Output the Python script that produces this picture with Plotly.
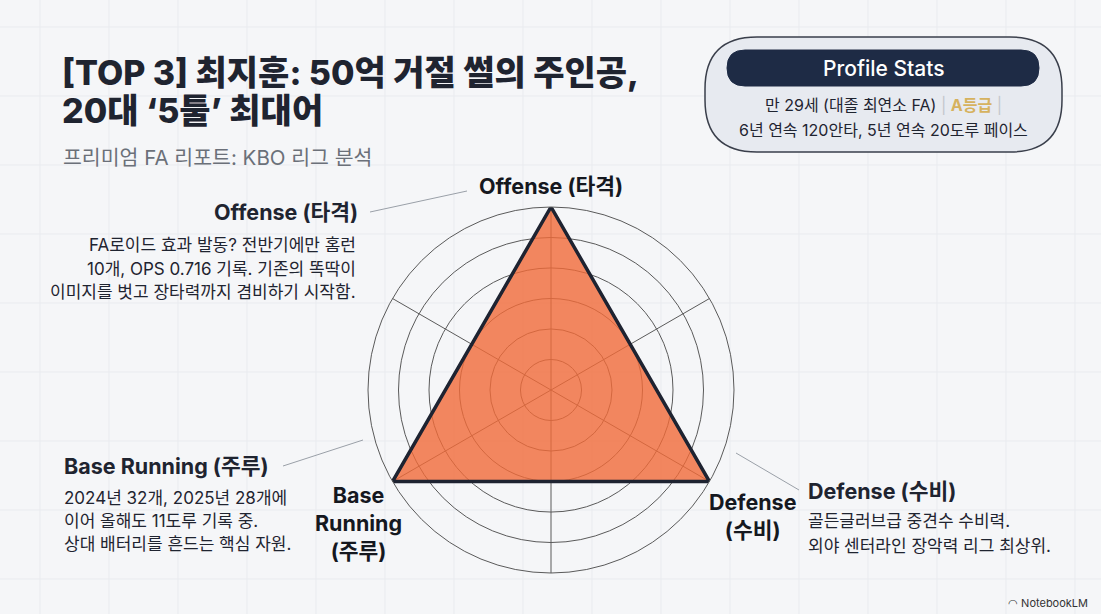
import plotly.graph_objects as go

W, H = 1101, 614

# ---- data ----
categories = ["Offense (타격)", "Defense (수비)", "Base Running (주루)"]
values = [6, 6, 6]
radial_max = 6
axis_order = ["Offense (타격)", " ", "Defense (수비)", "  ", "Base Running (주루)", "   "]

title_lines = ["[TOP 3] 최지훈: 50억 거절 썰의 주인공,", "20대 ‘5툴’ 최대어"]
subtitle = "프리미엄 FA 리포트: KBO 리그 분석"
profile_title = "Profile Stats"
profile_line1 = ("만 29세 (대졸 최연소 FA) ", "A등급")
profile_line2 = "6년 연속 120안타, 5년 연속 20도루 페이스"

axis_labels = {"Offense (타격)": "Offense (타격)",
               "Defense (수비)": "Defense<br>(수비)",
               "Base Running (주루)": "Base<br>Running<br>(주루)"}
notes = {
    "Offense (타격)": ["FA로이드 효과 발동? 전반기에만 홈런",
                     "10개, OPS 0.716 기록. 기존의 똑딱이",
                     "이미지를 벗고 장타력까지 겸비하기 시작함."],
    "Base Running (주루)": ["2024년 32개, 2025년 28개에",
                          "이어 올해도 11도루 기록 중.",
                          "상대 배터리를 흔드는 핵심 자원."],
    "Defense (수비)": ["골든글러브급 중견수 수비력.",
                     "외야 센터라인 장악력 리그 최상위."],
}

FONT = "Inter, Noto Sans CJK KR, sans-serif"
DARK = "#1f2430"


def X(x):
    return x / W


def Y(y):
    return 1 - y / H


fig = go.Figure()
fig.add_trace(go.Scatterpolar(
    r=values + values[:1],
    theta=categories + categories[:1],
    mode="lines",
    fill="toself",
    fillcolor="rgba(241,106,56,0.80)",
    line=dict(color="#1e2331", width=3.5),
    hoverinfo="skip",
    showlegend=False,
))

cx, cy, R = 551, 390, 183
fig.update_layout(
    width=W, height=H,
    margin=dict(l=0, r=0, t=0, b=0),
    paper_bgcolor="#f5f6f8",
    plot_bgcolor="#f5f6f8",
    font=dict(family=FONT, color=DARK),
    polar=dict(
        domain=dict(x=[X(cx - R), X(cx + R)], y=[Y(cy + R), Y(cy - R)]),
        bgcolor="rgba(0,0,0,0)",
        radialaxis=dict(range=[0, radial_max], dtick=1, showticklabels=False,
                        ticks="", showline=False, gridcolor="#5a5a5a", gridwidth=1),
        angularaxis=dict(type="category", categoryorder="array", categoryarray=axis_order,
                         rotation=90, direction="clockwise", showticklabels=False,
                         ticks="", linecolor="#5a5a5a", linewidth=1,
                         gridcolor="#5a5a5a", gridwidth=1),
    ),
)

shapes = []
# faint graph-paper background
for gx in range(40, W, 69):
    shapes.append(dict(type="line", xref="paper", yref="paper", x0=X(gx), x1=X(gx), y0=0, y1=1,
                       line=dict(color="#e9ebef", width=1), layer="below"))
for gy in range(27, H, 69):
    shapes.append(dict(type="line", xref="paper", yref="paper", x0=0, x1=1, y0=Y(gy), y1=Y(gy),
                       line=dict(color="#e9ebef", width=1), layer="below"))


def pill(x0, y0, x1, y1, r):
    s = f"M {X(x0 + r)} {Y(y0)} L {X(x1 - r)} {Y(y0)} "
    s += f"Q {X(x1)} {Y(y0)} {X(x1)} {Y(y0 + r)} "
    s += f"L {X(x1)} {Y(y1 - r)} Q {X(x1)} {Y(y1)} {X(x1 - r)} {Y(y1)} "
    s += f"L {X(x0 + r)} {Y(y1)} Q {X(x0)} {Y(y1)} {X(x0)} {Y(y1 - r)} "
    s += f"L {X(x0)} {Y(y0 + r)} Q {X(x0)} {Y(y0)} {X(x0 + r)} {Y(y0)} Z"
    return s


shapes.append(dict(type="path", xref="paper", yref="paper", path=pill(705, 37, 1062, 152, 52),
                   fillcolor="#e7eaf0", line=dict(color="#3a3f4b", width=1.5)))
shapes.append(dict(type="path", xref="paper", yref="paper", path=pill(727, 50, 1039, 86, 18),
                   fillcolor="#1e2b45", line=dict(color="#1e2b45", width=1)))

# leader lines
for (x0, y0, x1, y1) in [(370, 212, 467, 191), (283, 466, 363, 440), (736, 453, 799, 490)]:
    shapes.append(dict(type="line", xref="paper", yref="paper", x0=X(x0), y0=Y(y0), x1=X(x1), y1=Y(y1),
                       line=dict(color="#9aa0a8", width=1)))

fig.update_layout(shapes=shapes)

ann = []


def text(x, y, t, size, color=DARK, xanchor="left", align="left", bold=False, weight=None):
    f = dict(size=size, color=color, family=FONT)
    if weight:
        f["weight"] = weight
    ann.append(dict(xref="paper", yref="paper", x=X(x), y=Y(y), text=(f"<b>{t}</b>" if bold else t),
                    showarrow=False, xanchor=xanchor, yanchor="middle", align=align, font=f))


text(60, 72, title_lines[0], 34, weight=800)
text(60, 111, title_lines[1], 34, weight=800)
text(61, 157, subtitle, 20.5, color="#6b7079")

text(883, 68, profile_title, 21, color="#ffffff", xanchor="center", align="center", weight=500)
text(883, 105, profile_line1[0] + "<span style='color:#c4c7cc'>|</span> "
     + f"<span style='color:#d6b25e'><b>{profile_line1[1]}</b></span> "
     + "<span style='color:#c4c7cc'>|</span>", 16, xanchor="center", align="center")
text(883, 130, profile_line2, 16, xanchor="center", align="center")

# axis labels
label_pos = {"Offense (타격)": (551, 186), "Defense (수비)": (752, 516), "Base Running (주루)": (358, 523)}
for c in categories:
    x, y = label_pos[c]
    ann.append(dict(xref="paper", yref="paper", x=X(x), y=Y(y), text=f"<b>{axis_labels[c]}</b>",
                    showarrow=False, xanchor="center", yanchor="middle", align="center",
                    font=dict(size=21.5, color="#15181f", family=FONT)))

# side notes
text(360, 212, categories[0], 21.5, xanchor="right", align="right", bold=True)
for i, ln in enumerate(notes[categories[0]]):
    text(358, 245 + i * 23.5, ln, 17, xanchor="right", align="right")

text(62, 466, categories[2], 21.5, bold=True)
for i, ln in enumerate(notes[categories[2]]):
    text(62, 498 + i * 23, ln, 17)

text(806, 491, categories[1], 21.5, bold=True)
for i, ln in enumerate(notes[categories[1]]):
    text(806, 521 + i * 25, ln, 17)

text(1090, 603, "◠ NotebookLM", 11, color="#333333", xanchor="right", align="right")

fig.update_layout(annotations=ann)
fig.write_html("out.html", config={"displayModeBar": False},
               post_script="document.body.style.margin='0';document.body.style.overflow='hidden';")
